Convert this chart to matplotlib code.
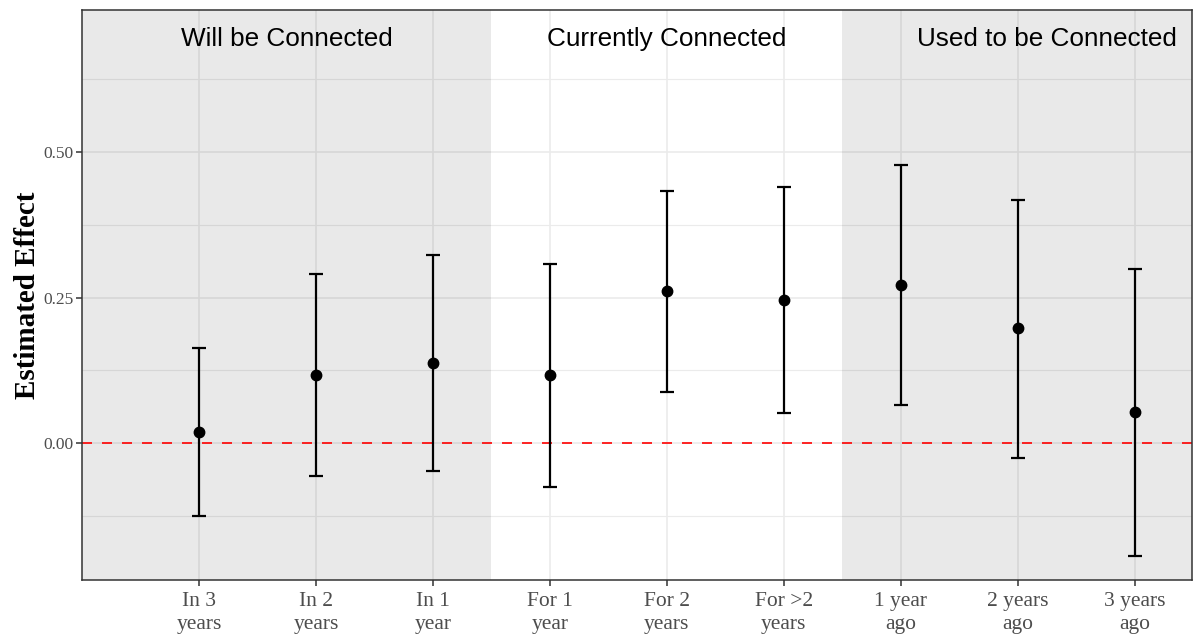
import matplotlib
matplotlib.use("Agg")
import matplotlib.pyplot as plt
import numpy as np

categories = ["In 3\nyears", "In 2\nyears", "In 1\nyear", "For 1\nyear", "For 2\nyears",
              "For >2\nyears", "1 year\nago", "2 years\nago", "3 years\nago"]
estimate = [0.019, 0.117, 0.137, 0.117, 0.261, 0.246, 0.271, 0.198, 0.053]
ci_low = [-0.125, -0.057, -0.048, -0.076, 0.088, 0.052, 0.065, -0.026, -0.194]
ci_high = [0.163, 0.290, 0.323, 0.308, 0.433, 0.440, 0.478, 0.418, 0.299]
group_labels = ["Will be Connected", "Currently Connected", "Used to be Connected"]
group_label_x = [1.75, 5.0, 8.25]
y_ticks = [0.0, 0.25, 0.5]
y_ticklabels = ["0.00", "0.25", "0.50"]

fig = plt.figure(figsize=(11.94, 6.39), dpi=100)
ax = fig.add_axes([82/1194, 1-580/639, (1192-82)/1194, (580-10)/639])

x = np.arange(1, len(categories) + 1)
xlim = (0.0, 9.49)
ylim = (-0.2354, 0.744)
ax.set_xlim(*xlim)
ax.set_ylim(*ylim)

# grid
for yv in [-0.125, 0.125, 0.375, 0.625]:
    ax.axhline(yv, color="#EBEBEB", lw=0.8, zorder=0)
for yv in y_ticks:
    ax.axhline(yv, color="#EBEBEB", lw=1.2, zorder=0)
for xv in x:
    ax.axvline(xv, color="#EBEBEB", lw=1.2, zorder=0)

# shaded regions
ax.axvspan(xlim[0], 3.5, color="black", alpha=0.085, lw=0, zorder=1)
ax.axvspan(6.5, xlim[1], color="black", alpha=0.085, lw=0, zorder=1)

# zero line
ax.axhline(0, color="red", lw=1.2, linestyle=(0, (6, 6)), zorder=2)

est = np.array(estimate)
lo = np.array(ci_low)
hi = np.array(ci_high)
ax.errorbar(x, est, yerr=[est - lo, hi - est], fmt="none", ecolor="black",
            elinewidth=1.6, capsize=5, capthick=1.6, zorder=3)
ax.plot(x, est, "o", color="black", markersize=7.5, zorder=4)

for lab, gx in zip(group_labels, group_label_x):
    ax.text(gx, 0.695, lab, ha="center", va="center", fontsize=18.8,
            family="Liberation Sans", color="black", zorder=5)

ax.set_xticks(x)
ax.set_xticklabels(categories, fontsize=15.5, family="Liberation Serif",
                   color="#4D4D4D", linespacing=1.32)
ax.set_yticks(y_ticks)
ax.set_yticklabels(y_ticklabels, fontsize=12.5, family="Liberation Serif", color="#4D4D4D")
ax.tick_params(axis="both", direction="out", length=4, width=1.1, color="#333333")
ax.tick_params(axis="x", pad=4.5)
ax.tick_params(axis="y", pad=2)

for s in ax.spines.values():
    s.set_color("#333333")
    s.set_linewidth(1.1)

ax.set_ylabel("Estimated Effect", fontsize=21, family="Liberation Serif",
              fontweight="bold")
ax.yaxis.set_label_coords(-0.037, 0.5)

fig.savefig("out.png", dpi=100)
